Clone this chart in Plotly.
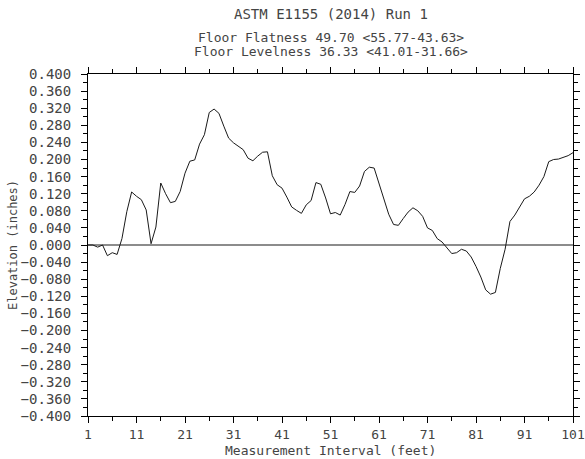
import plotly.graph_objects as go

feet = list(range(1, 102))
elevation = [
    0.000, 0.000, -0.005, 0.000, -0.025, -0.018, -0.022, 0.015, 0.078, 0.124,
    0.114, 0.106, 0.082, 0.003, 0.042, 0.145, 0.120, 0.099, 0.102, 0.125,
    0.168, 0.196, 0.199, 0.236, 0.258, 0.310, 0.318, 0.308, 0.278, 0.250,
    0.239, 0.230, 0.223, 0.203, 0.197, 0.208, 0.217, 0.218, 0.162, 0.141,
    0.133, 0.112, 0.089, 0.081, 0.074, 0.094, 0.104, 0.146, 0.142, 0.110,
    0.073, 0.076, 0.070, 0.095, 0.125, 0.123, 0.138, 0.172, 0.182, 0.180,
    0.142, 0.108, 0.072, 0.048, 0.046, 0.062, 0.077, 0.087, 0.080, 0.067,
    0.040, 0.034, 0.015, 0.007, -0.006, -0.020, -0.018, -0.010, -0.014, -0.028,
    -0.050, -0.075, -0.105, -0.115, -0.111, -0.055, -0.010, 0.055, 0.070, 0.090,
    0.108, 0.114, 0.124, 0.140, 0.160, 0.195, 0.200, 0.201, 0.205, 0.209,
    0.216,
]

title_text = "ASTM E1155 (2014) Run 1"
flatness_text = "Floor Flatness 49.70 <55.77-43.63>"
levelness_text = "Floor Levelness 36.33 <41.01-31.66>"
x_title = "Measurement Interval (feet)"
y_title = "Elevation (inches)"

FONT = "DejaVu Sans Mono"
TXT = "#444444"

W, H = 585, 459
ML, MR, MT, MB = 88, 585 - 573, 74, 459 - 416
PLOT_H = H - MT - MB

def ypix(row):
    return 1 + (MT - row) / PLOT_H

fig = go.Figure()
fig.add_trace(go.Scatter(
    x=feet, y=elevation, mode="lines",
    line=dict(color="#1a1a1a", width=1),
    showlegend=False, hoverinfo="skip",
))

fig.update_layout(
    width=W, height=H,
    margin=dict(l=ML, r=MR, t=MT, b=MB, autoexpand=False),
    paper_bgcolor="white", plot_bgcolor="white",
    font=dict(family=FONT, size=13, color=TXT),
    annotations=[
        dict(text=title_text, x=0.5, y=ypix(14), xref="paper", yref="paper",
             showarrow=False, xanchor="center", yanchor="middle",
             font=dict(family=FONT, size=14, color=TXT)),
        dict(text=flatness_text, x=0.5, y=ypix(37), xref="paper", yref="paper",
             showarrow=False, xanchor="center", yanchor="middle",
             font=dict(family=FONT, size=13, color=TXT)),
        dict(text=levelness_text, x=0.5, y=ypix(51), xref="paper", yref="paper",
             showarrow=False, xanchor="center", yanchor="middle",
             font=dict(family=FONT, size=13, color=TXT)),
        dict(text=x_title, x=0.5, y=0, xref="paper", yref="paper",
             showarrow=False, xanchor="center", yanchor="middle", yshift=-34,
             font=dict(family=FONT, size=13, color=TXT)),
        dict(text=y_title, x=0, y=0.5, xref="paper", yref="paper", textangle=-90,
             showarrow=False, xanchor="center", yanchor="middle", xshift=-(ML - 13),
             font=dict(family=FONT, size=12, color=TXT)),
    ],
)

fig.update_xaxes(
    range=[1, 101], tick0=1, dtick=10, automargin=False,
    showgrid=False, zeroline=False,
    showline=True, linecolor="black", linewidth=1, mirror="ticks",
    ticks="outside", ticklen=6, tickcolor="black", tickwidth=1,
    minor=dict(ticks="outside", ticklen=4, tick0=1, dtick=5, tickcolor="black", showgrid=False),
    tickfont=dict(family=FONT, size=13, color=TXT),
    ticklabeloverflow="allow", ticklabelstandoff=0,
)
fig.update_yaxes(
    range=[-0.4, 0.4], tick0=0, dtick=0.04, tickformat=".3f", automargin=False,
    showgrid=False,
    zeroline=True, zerolinecolor="#8c8c8c", zerolinewidth=2,
    showline=True, linecolor="black", linewidth=1, mirror="ticks",
    ticks="outside", ticklen=6, tickcolor="black", tickwidth=1,
    minor=dict(ticks="outside", ticklen=4, dtick=0.02, tickcolor="black", showgrid=False),
    tickfont=dict(family=FONT, size=14, color=TXT),
    ticklabelstandoff=7,
)

fig.write_html(
    "out.html",
    config={"displayModeBar": False},
    post_script="document.body.style.margin='0';document.body.style.overflow='hidden';",
)
